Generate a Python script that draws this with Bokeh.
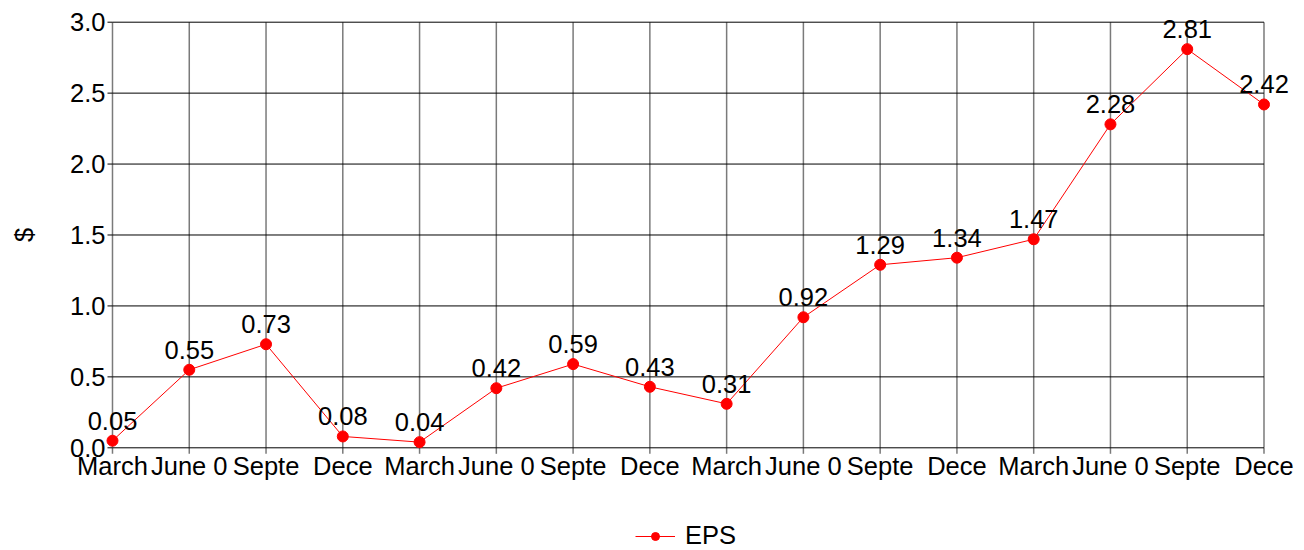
import math
from bokeh.plotting import figure
from bokeh.models import Legend, LegendItem, ColumnDataSource, Range1d
from bokeh.core.properties import value
from bokeh.embed import file_html
from bokeh.resources import INLINE

# Quarterly earnings per share
quarters = ["March", "June 0", "Septe", "Dece"] * 4
eps = [0.05, 0.55, 0.73, 0.08, 0.04, 0.42, 0.59, 0.43,
       0.31, 0.92, 1.29, 1.34, 1.47, 2.28, 2.81, 2.42]
y_ticks = [0.0, 0.5, 1.0, 1.5, 2.0, 2.5, 3.0]
y_title = "$"
series_name = "EPS"

idx = list(range(len(eps)))
src = ColumnDataSource(dict(x=idx, y=eps, label=[f"{v:.2f}" for v in eps]))

FONT = value("Liberation Sans")
FS = value("25.5px")
GRID_GREY = "#7a7a7a"

# The frame fills the whole canvas; the visible axes are drawn in data space
# so that nothing near the edges of the gridded area gets clipped.
p = figure(width=1304, height=550, output_backend="svg", toolbar_location=None,
           x_range=Range1d(-1.4589, 15.5276), y_range=Range1d(-0.7239, 3.1529),
           x_axis_location=None, y_axis_location=None,
           min_border_left=0, min_border_right=0, min_border_top=0,
           min_border_bottom=0)
p.outline_line_color = None
p.background_fill_color = "white"
p.border_fill_color = "white"
p.xgrid.visible = False
p.ygrid.visible = False

x0, x1 = idx[0], idx[-1]
y0, y1 = y_ticks[0], y_ticks[-1]

# vertical grid lines at each quarter, with short ticks below the axis
vg = ColumnDataSource(dict(x=idx, ylo=[y0] * len(idx), yhi=[y1] * len(idx), lab=quarters))
p.segment(x0="x", y0="ylo", x1="x", y1="yhi", source=vg, line_color=GRID_GREY,
          line_width=1.5, level="underlay")
p.ray(x="x", y="ylo", source=vg, length=6, length_units="screen", angle=-math.pi / 2,
      line_color=GRID_GREY, line_width=1.5, level="underlay")
p.text(x="x", y="ylo", text="lab", source=vg, text_align="center",
       text_baseline="alphabetic", y_offset=18, text_font=FONT, text_font_size=FS,
       text_color="black")

# horizontal grid lines (the lowest one is the x axis), with ticks and labels
hg = ColumnDataSource(dict(y=y_ticks, xlo=[x0] * len(y_ticks), xhi=[x1] * len(y_ticks),
                           lab=[f"{t:.1f}" for t in y_ticks]))
p.segment(x0="xlo", y0="y", x1="xhi", y1="y", source=hg, line_color="black",
          line_width=1, level="underlay")
p.ray(x="xlo", y="y", source=hg, length=5, length_units="screen", angle=math.pi,
      line_color="black", line_width=1, level="underlay")
p.text(x="xlo", y="y", text="lab", source=hg, text_align="right",
       text_baseline="middle", x_offset=-7, text_font=FONT, text_font_size=FS,
       text_color="black")

# y axis title
p.text(x=[x0], y=[(y0 + y1) / 2], text=[y_title], angle=math.pi / 2, x_offset=-88,
       text_align="center", text_baseline="middle", text_font=FONT,
       text_font_size=FS, text_color="black")

# the series
line = p.line("x", "y", source=src, line_color="red", line_width=1)
dots = p.scatter("x", "y", source=src, size=11, fill_color="red", line_color="red")
p.text("x", "y", text="label", source=src, text_align="center",
       text_baseline="alphabetic", y_offset=-20, text_font=FONT,
       text_font_size=FS, text_color="black")

legend = Legend(items=[LegendItem(label=series_name, renderers=[line, dots])],
                location=(635, 0), orientation="horizontal",
                label_text_font="Liberation Sans", label_text_font_size="25.5px",
                label_text_color="black",
                border_line_color=None, background_fill_alpha=0,
                glyph_width=40, margin=0, padding=0, label_standoff=10)
p.add_layout(legend)

open("out.html", "w").write(file_html(p, INLINE))
